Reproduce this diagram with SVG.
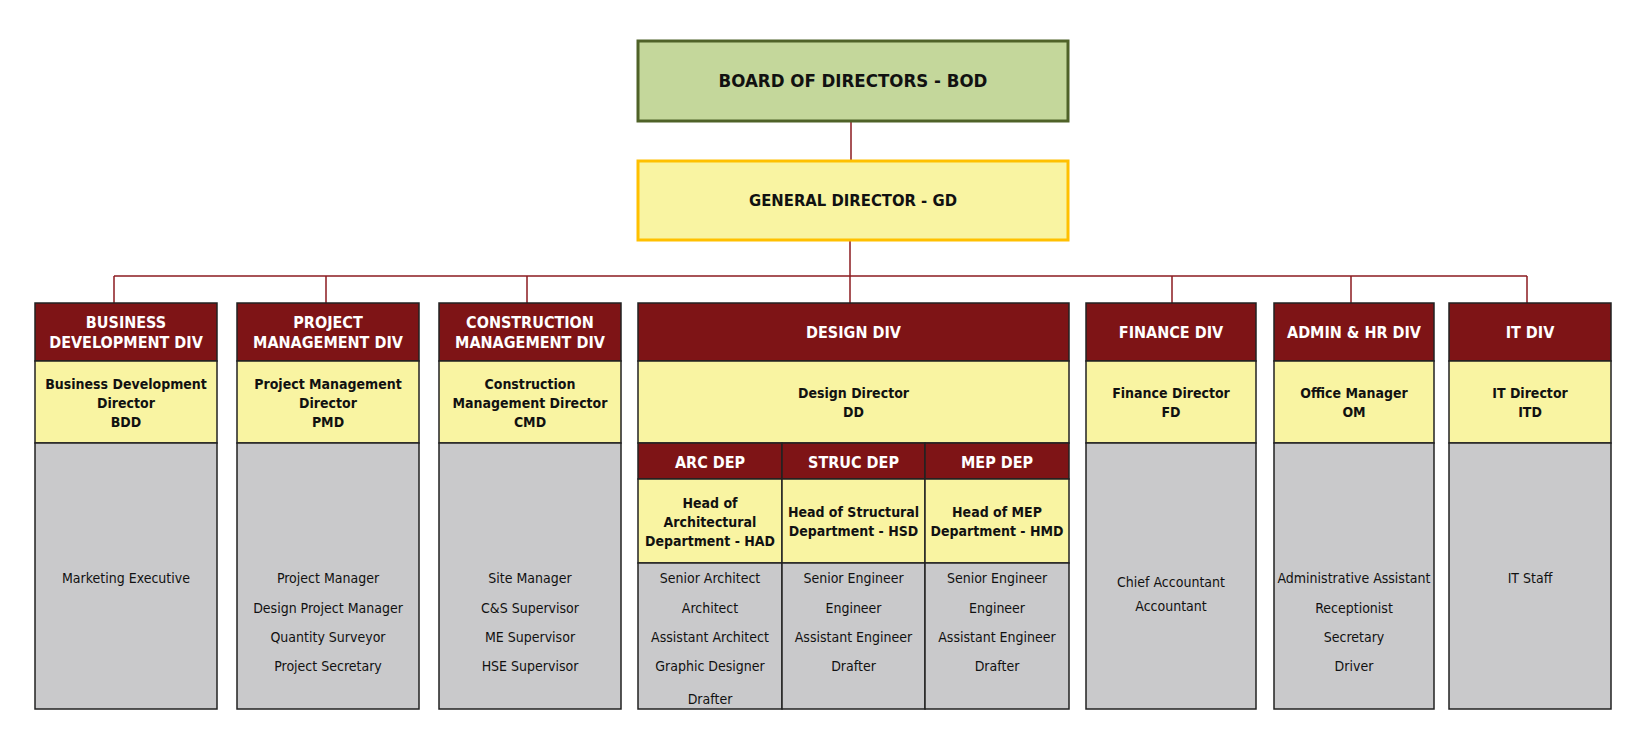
<svg xmlns="http://www.w3.org/2000/svg" width="1650" height="748" viewBox="0 0 1650 748">
<style>
text{font-family:"DejaVu Sans Condensed","DejaVu Sans",sans-serif;font-stretch:condensed;text-anchor:middle;fill:#111}
.hd{fill:#7e1416;stroke:#222;stroke-width:1.5}
.yl{fill:#f9f4a2;stroke:#222;stroke-width:1.5}
.gr{fill:#c9c9cb;stroke:#222;stroke-width:1.5}
.ht{font-weight:bold;font-size:16px;fill:#fff}
.yt{font-weight:bold;font-size:14px}
.gt{font-size:14px}
.cn{stroke:#8b1a1f;stroke-width:1.5;fill:none}
</style>
<rect width="1650" height="748" fill="#fff"/>
<g id="connectors">
<line class="cn" x1="851" y1="121" x2="851" y2="160"/>
<line class="cn" x1="850" y1="240" x2="850" y2="303"/>
<line class="cn" x1="114" y1="276" x2="1527" y2="276"/>
<line class="cn" x1="114" y1="276" x2="114" y2="303"/>
<line class="cn" x1="326" y1="276" x2="326" y2="303"/>
<line class="cn" x1="527" y1="276" x2="527" y2="303"/>
<line class="cn" x1="1172" y1="276" x2="1172" y2="303"/>
<line class="cn" x1="1351" y1="276" x2="1351" y2="303"/>
<line class="cn" x1="1527" y1="276" x2="1527" y2="303"/>
</g>
<g id="bod">
<rect x="638" y="41" width="430" height="80" fill="#c4d79b" stroke="#4f6228" stroke-width="3"/>
<text x="853" y="87" style="font-weight:bold;font-size:18.5px">BOARD OF DIRECTORS - BOD</text>
</g>
<g id="gd">
<rect x="638" y="161" width="430" height="79" fill="#f9f4a2" stroke="#ffc000" stroke-width="3"/>
<text x="853" y="206" style="font-weight:bold;font-size:16.5px">GENERAL DIRECTOR - GD</text>
</g>
<g id="bd">
<rect class="hd" x="35" y="303" width="182" height="58"/>
<rect class="yl" x="35" y="361" width="182" height="82"/>
<rect class="gr" x="35" y="443" width="182" height="266"/>
<text class="ht" x="126" y="328">BUSINESS</text>
<text class="ht" x="126" y="348">DEVELOPMENT DIV</text>
<text class="yt" x="126" y="389">Business Development</text>
<text class="yt" x="126" y="408">Director</text>
<text class="yt" x="126" y="427">BDD</text>
<text class="gt" x="126" y="583">Marketing Executive</text>
</g>
<g id="pm">
<rect class="hd" x="237" y="303" width="182" height="58"/>
<rect class="yl" x="237" y="361" width="182" height="82"/>
<rect class="gr" x="237" y="443" width="182" height="266"/>
<text class="ht" x="328" y="328">PROJECT</text>
<text class="ht" x="328" y="348">MANAGEMENT DIV</text>
<text class="yt" x="328" y="389">Project Management</text>
<text class="yt" x="328" y="408">Director</text>
<text class="yt" x="328" y="427">PMD</text>
<text class="gt" x="328" y="583">Project Manager</text>
<text class="gt" x="328" y="612.5">Design Project Manager</text>
<text class="gt" x="328" y="642">Quantity Surveyor</text>
<text class="gt" x="328" y="671">Project Secretary</text>
</g>
<g id="cm">
<rect class="hd" x="439" y="303" width="182" height="58"/>
<rect class="yl" x="439" y="361" width="182" height="82"/>
<rect class="gr" x="439" y="443" width="182" height="266"/>
<text class="ht" x="530" y="328">CONSTRUCTION</text>
<text class="ht" x="530" y="348">MANAGEMENT DIV</text>
<text class="yt" x="530" y="389">Construction</text>
<text class="yt" x="530" y="408">Management Director</text>
<text class="yt" x="530" y="427">CMD</text>
<text class="gt" x="530" y="583">Site Manager</text>
<text class="gt" x="530" y="612.5">C&amp;S Supervisor</text>
<text class="gt" x="530" y="642">ME Supervisor</text>
<text class="gt" x="530" y="671">HSE Supervisor</text>
</g>
<g id="design">
<rect class="hd" x="638" y="303" width="431" height="58"/>
<rect class="yl" x="638" y="361" width="431" height="82"/>
<text class="ht" x="853.5" y="338">DESIGN DIV</text>
<text class="yt" x="853.5" y="398">Design Director</text>
<text class="yt" x="853.5" y="417">DD</text>
</g>
<g id="arc">
<rect class="hd" x="638" y="443" width="144" height="36"/>
<rect class="yl" x="638" y="479" width="144" height="84"/>
<rect class="gr" x="638" y="563" width="144" height="146"/>
<text class="ht" x="710" y="468">ARC DEP</text>
<text class="yt" x="710" y="507.5">Head of</text>
<text class="yt" x="710" y="526.5">Architectural</text>
<text class="yt" x="710" y="545.5">Department - HAD</text>
<text class="gt" x="710" y="583">Senior Architect</text>
<text class="gt" x="710" y="612.5">Architect</text>
<text class="gt" x="710" y="642">Assistant Architect</text>
<text class="gt" x="710" y="671">Graphic Designer</text>
<text class="gt" x="710" y="703.5">Drafter</text>
</g>
<g id="struc">
<rect class="hd" x="782" y="443" width="143" height="36"/>
<rect class="yl" x="782" y="479" width="143" height="84"/>
<rect class="gr" x="782" y="563" width="143" height="146"/>
<text class="ht" x="853.5" y="468">STRUC DEP</text>
<text class="yt" x="853.5" y="517">Head of Structural</text>
<text class="yt" x="853.5" y="536">Department - HSD</text>
<text class="gt" x="853.5" y="583">Senior Engineer</text>
<text class="gt" x="853.5" y="612.5">Engineer</text>
<text class="gt" x="853.5" y="642">Assistant Engineer</text>
<text class="gt" x="853.5" y="671">Drafter</text>
</g>
<g id="mep">
<rect class="hd" x="925" y="443" width="144" height="36"/>
<rect class="yl" x="925" y="479" width="144" height="84"/>
<rect class="gr" x="925" y="563" width="144" height="146"/>
<text class="ht" x="997" y="468">MEP DEP</text>
<text class="yt" x="997" y="517">Head of MEP</text>
<text class="yt" x="997" y="536">Department - HMD</text>
<text class="gt" x="997" y="583">Senior Engineer</text>
<text class="gt" x="997" y="612.5">Engineer</text>
<text class="gt" x="997" y="642">Assistant Engineer</text>
<text class="gt" x="997" y="671">Drafter</text>
</g>
<g id="finance">
<rect class="hd" x="1086" y="303" width="170" height="58"/>
<rect class="yl" x="1086" y="361" width="170" height="82"/>
<rect class="gr" x="1086" y="443" width="170" height="266"/>
<text class="ht" x="1171" y="338">FINANCE DIV</text>
<text class="yt" x="1171" y="398">Finance Director</text>
<text class="yt" x="1171" y="417">FD</text>
<text class="gt" x="1171" y="587">Chief Accountant</text>
<text class="gt" x="1171" y="611">Accountant</text>
</g>
<g id="admin">
<rect class="hd" x="1274" y="303" width="160" height="58"/>
<rect class="yl" x="1274" y="361" width="160" height="82"/>
<rect class="gr" x="1274" y="443" width="160" height="266"/>
<text class="ht" x="1354" y="338">ADMIN &amp; HR DIV</text>
<text class="yt" x="1354" y="398">Office Manager</text>
<text class="yt" x="1354" y="417">OM</text>
<text class="gt" x="1354" y="583">Administrative Assistant</text>
<text class="gt" x="1354" y="612.5">Receptionist</text>
<text class="gt" x="1354" y="642">Secretary</text>
<text class="gt" x="1354" y="671">Driver</text>
</g>
<g id="it">
<rect class="hd" x="1449" y="303" width="162" height="58"/>
<rect class="yl" x="1449" y="361" width="162" height="82"/>
<rect class="gr" x="1449" y="443" width="162" height="266"/>
<text class="ht" x="1530" y="338">IT DIV</text>
<text class="yt" x="1530" y="398">IT Director</text>
<text class="yt" x="1530" y="417">ITD</text>
<text class="gt" x="1530" y="583">IT Staff</text>
</g>
</svg>
